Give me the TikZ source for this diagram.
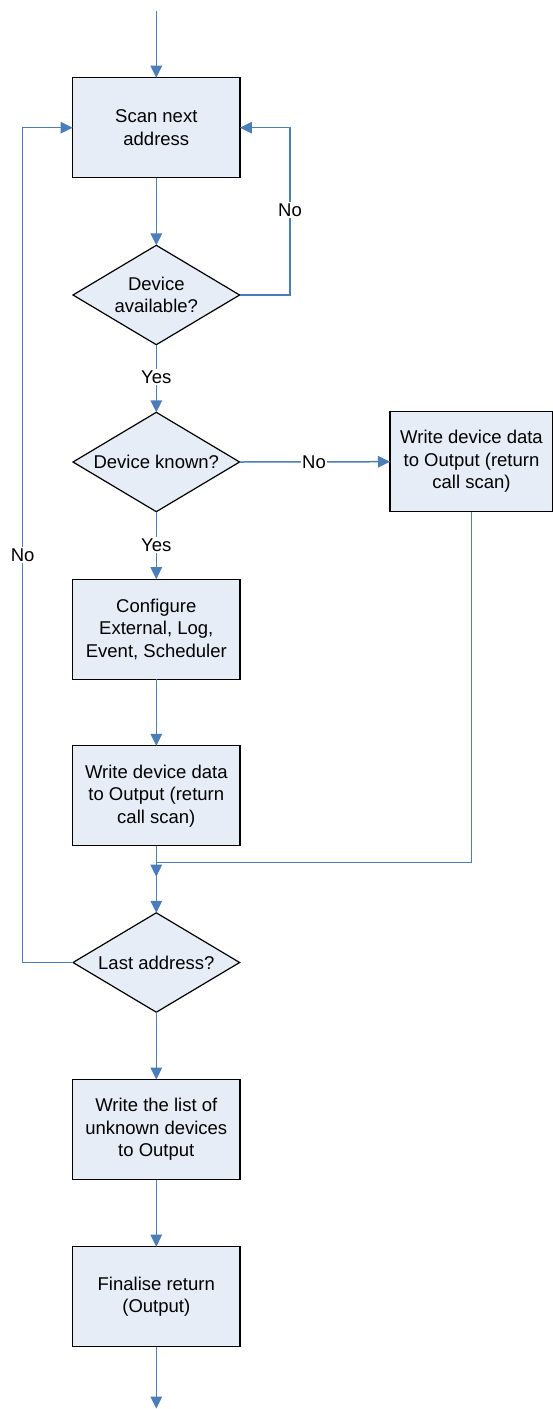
\documentclass[tikz,border=0pt]{standalone}
\usepackage{fontspec}
\setmainfont{Liberation Sans}
\usetikzlibrary{shapes.geometric,arrows.meta}
\definecolor{lineblue}{RGB}{74,126,187}
\definecolor{boxfill}{RGB}{231,237,247}
\tikzset{
  procbox/.style={draw=black, line width=1.2pt, fill=boxfill, minimum width=167.3pt, minimum height=100pt, inner sep=0pt, outer sep=0pt, align=center, font=\fontsize{18.5}{22.5}\selectfont},
  decide/.style={diamond, draw=black, line width=1.2pt, fill=boxfill, minimum width=166.6pt, minimum height=99.4pt, inner sep=0pt, outer sep=0pt},
  dtext/.style={inner sep=0pt, align=center, font=\fontsize{18.5}{22.5}\selectfont},
  flow/.style={draw=lineblue, line width=1.5pt, -{Triangle[length=12pt,width=11.5pt]}},
  lbl/.style={fill=white, inner sep=1.5pt, font=\fontsize{18.5}{22.5}\selectfont}
}
\begin{document}
\begin{tikzpicture}[x=1pt,y=-1pt]
\useasboundingbox (0,0) rectangle (553,1409);
\node[procbox] (scan) at (156.3,127.7) {Scan next\\address};
\node[decide] (avail) at (156.3,295) {};
\node[dtext] (availtxt) at (avail.center) {Device\\available?};
\node[decide] (known) at (156.3,462) {};
\node[dtext] (knowntxt) at (known.center) {Device known?};
\node[procbox, minimum width=163pt] (unk) at (471.5,461.7) {Write device data\\to Output (return\\call scan)};
\node[procbox] (conf) at (156.3,629.2) {Configure\\External, Log,\\Event, Scheduler};
\node[procbox] (write) at (156.3,795.8) {Write device data\\to Output (return\\call scan)};
\node[decide] (last) at (156.3,962.5) {};
\node[dtext] (lasttxt) at (last.center) {Last address?};
\node[procbox] (list) at (156.3,1129.5) {Write the list of\\unknown devices\\to Output};
\node[procbox] (final) at (156.3,1296.7) {Finalise return\\(Output)};
\coordinate (start) at (156.3,10.7);
\coordinate (end) at (156.3,1408.5);
\coordinate (rloop) at (290,295);
\coordinate (lloop) at (22.7,962.5);
\coordinate (join) at (156.3,862.7);
\coordinate (jointip) at (156.3,876.7);
% connectors
\draw[flow] (start) -- (scan.north);
\draw[flow] (scan.south) -- (avail.north);
\draw[flow] (avail.east) -- (rloop) |- (scan.east);
\draw[flow] (avail.south) -- (known.north);
\draw[flow] (known.east) -- (unk.west);
\draw[flow] (known.south) -- (conf.north);
\draw[flow] (conf.south) -- (write.north);
\draw[flow] (write.south) -- (last.north);
\draw[flow] (unk.south) |- (join) -- (jointip);
\draw[flow] (last.west) -- (lloop) |- (scan.west);
\draw[flow] (last.south) -- (list.north);
\draw[flow] (list.south) -- (final.north);
\draw[flow] (final.south) -- (end);
% labels
\node[lbl] (noA) at (290,210) {No};
\node[lbl] (yesA) at (156.3,377) {Yes};
\node[lbl] (noB) at (314,462) {No};
\node[lbl] (yesB) at (156.3,545) {Yes};
\node[lbl] (noC) at (22.7,555) {No};
\end{tikzpicture}
\end{document}
